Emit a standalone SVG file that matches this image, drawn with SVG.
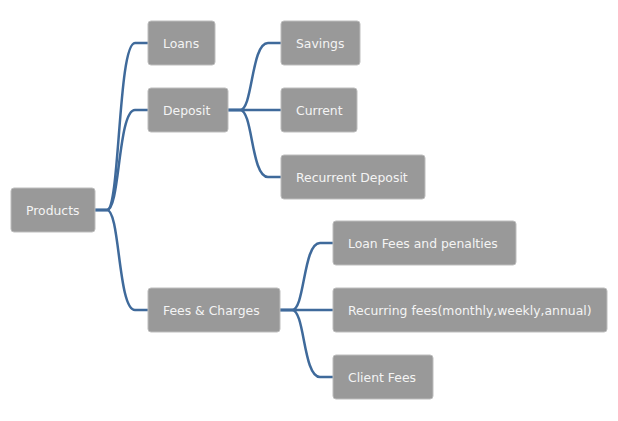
<svg xmlns="http://www.w3.org/2000/svg" width="618" height="421" viewBox="0 0 618 421">
<style>
.n rect{fill:#999999;stroke:#bdbdbd;stroke-width:1}
.n text{font-family:"DejaVu Sans",sans-serif;font-size:12.4px;fill:#f4f4f4}
#edges path{fill:none;stroke:#3f6a9b;stroke-width:2.5;stroke-linecap:round}
</style>
<rect width="618" height="421" fill="#ffffff"/>
<g id="edges">
<path d="M95,210 L107,210 C120,210 118,43 135,43 L148,43"/>
<path d="M95,210 L107,210 C120,210 118,110 135,110 L148,110"/>
<path d="M95,210 L107,210 C120,210 118,310 135,310 L148,310"/>
<path d="M228,110 L240,110 C253,110 251,43 268,43 L281,43"/>
<path d="M228,110 L281,110"/>
<path d="M228,110 L240,110 C253,110 251,177 268,177 L281,177"/>
<path d="M280,310 L292,310 C305,310 303,243 320,243 L333,243"/>
<path d="M280,310 L333,310"/>
<path d="M280,310 L292,310 C305,310 303,377 320,377 L333,377"/>
</g>
<g id="products" class="n"><rect x="11" y="188" width="84" height="44" rx="3"/><text x="26" y="215">Products</text></g>
<g id="loans" class="n"><rect x="148" y="21" width="67" height="44" rx="3"/><text x="163" y="48">Loans</text></g>
<g id="deposit" class="n"><rect x="148" y="88" width="80" height="44" rx="3"/><text x="163" y="115">Deposit</text></g>
<g id="fees" class="n"><rect x="148" y="288" width="132" height="44" rx="3"/><text x="163" y="315">Fees &amp; Charges</text></g>
<g id="savings" class="n"><rect x="281" y="21" width="79" height="44" rx="3"/><text x="296" y="48">Savings</text></g>
<g id="current" class="n"><rect x="281" y="88" width="76" height="44" rx="3"/><text x="296" y="115">Current</text></g>
<g id="recurrent" class="n"><rect x="281" y="155" width="144" height="44" rx="3"/><text x="296" y="182">Recurrent Deposit</text></g>
<g id="loanfees" class="n"><rect x="333" y="221" width="183" height="44" rx="3"/><text x="348" y="248">Loan Fees and penalties</text></g>
<g id="recurring" class="n"><rect x="333" y="288" width="274" height="44" rx="3"/><text x="348" y="315">Recurring fees(monthly,weekly,annual)</text></g>
<g id="clientfees" class="n"><rect x="333" y="355" width="100" height="44" rx="3"/><text x="348" y="382">Client Fees</text></g>
</svg>
